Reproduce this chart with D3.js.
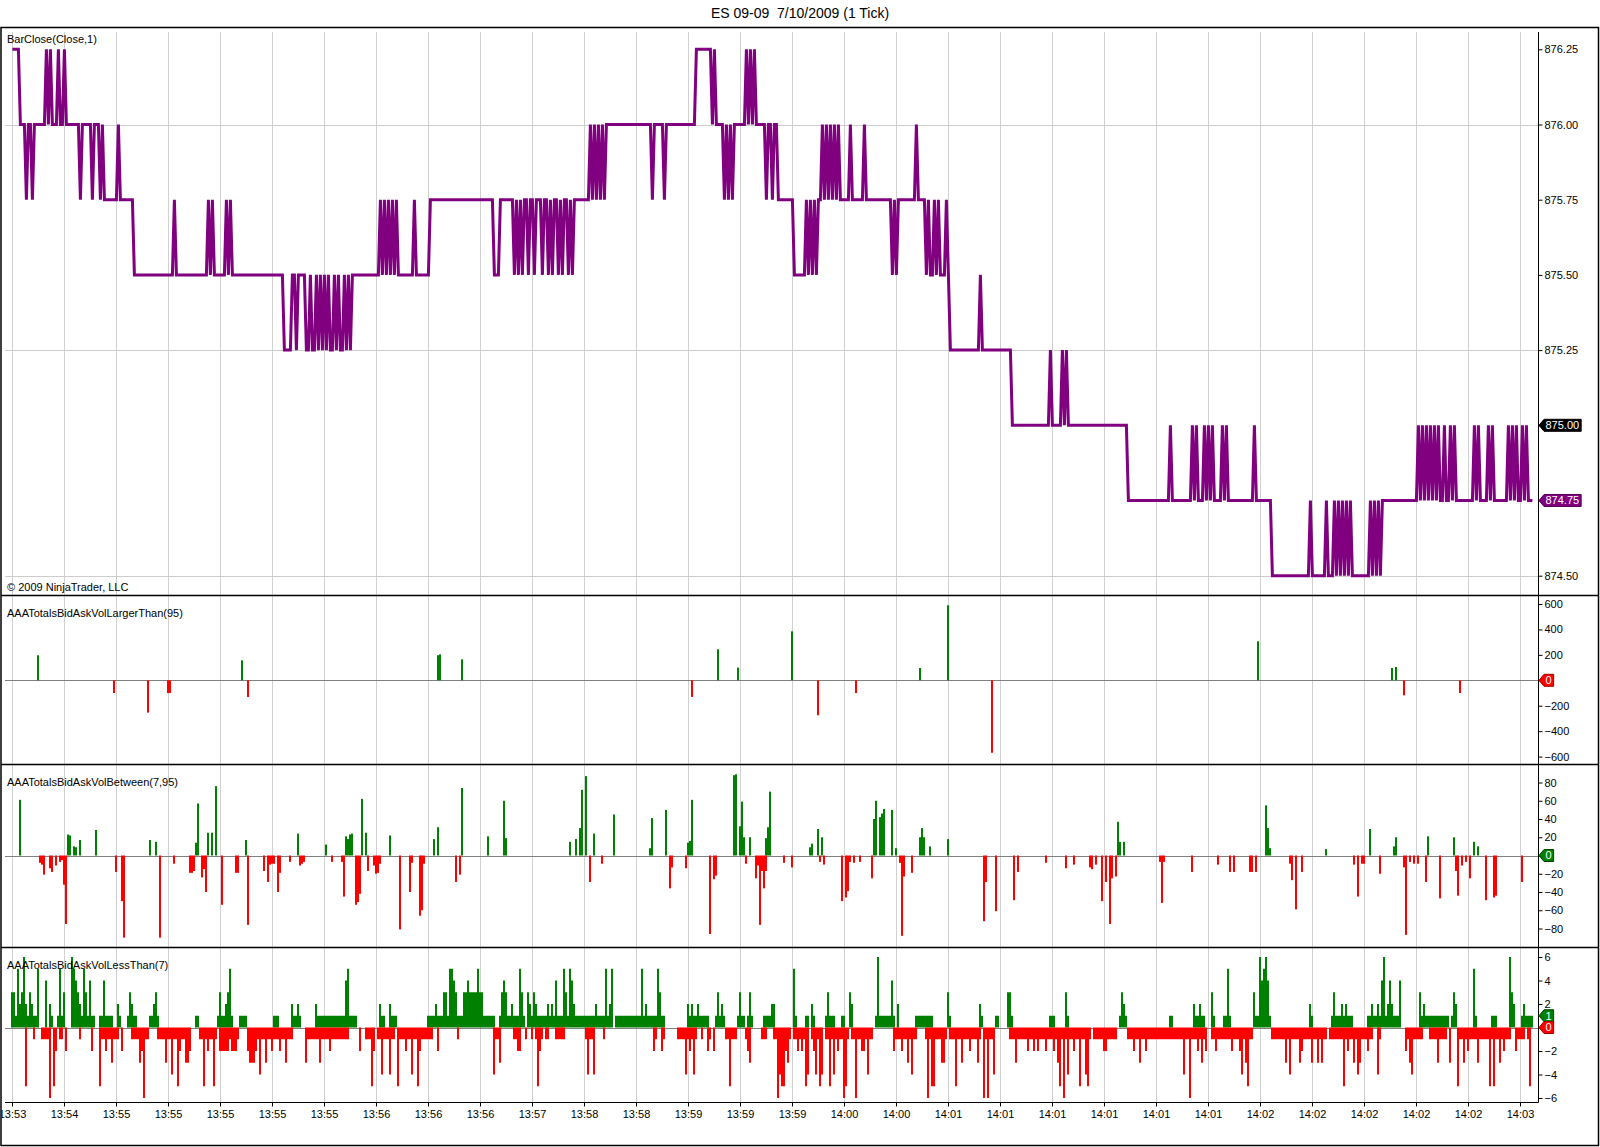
<!DOCTYPE html>
<html>
<head>
<meta charset="utf-8">
<script src="https://cdn.jsdelivr.net/npm/d3@7"></script>
<style>
    body { margin: 0; background: #fff; }
    text { font-family: Arial, "Liberation Sans", sans-serif; }
</style>
</head>
<body>
<script>
const chartTitle = 'ES 09-09  7/10/2009 (1 Tick)';
const copyright = '\u00a9 2009 NinjaTrader, LLC';
const panelNames = ['BarClose(Close,1)', 'AAATotalsBidAskVolLargerThan(95)',
                    'AAATotalsBidAskVolBetween(7,95)', 'AAATotalsBidAskVolLessThan(7)'];

// one label every 26 ticks
const barsPerLabel = 26;
const barCount = 761;
const timeLabels = ['13:53', '13:54', '13:55', '13:55', '13:55', '13:55', '13:55', '13:56',
                    '13:56', '13:56', '13:57', '13:58', '13:58', '13:59', '13:59', '13:59',
                    '14:00', '14:00', '14:01', '14:01', '14:01', '14:01', '14:01', '14:01',
                    '14:02', '14:02', '14:02', '14:02', '14:02', '14:03'];

// [bar, close] : the close holds from that bar until the next entry
const priceChanges = [
    [0,876.25],[4,876.00],[7,875.75],[8,876.00],[10,875.75],[11,876.00],
    [17,876.25],[18,876.00],[19,876.25],[20,876.00],[23,876.25],[24,876.00],[26,876.25],[27,876.00],
    [34,875.75],[35,876.00],[40,875.75],[41,876.00],[44,875.75],[45,876.00],[46,875.75],
    [53,876.00],[54,875.75],[61,875.50],
    [81,875.75],[82,875.50],[98,875.75],[99,875.50],[100,875.75],[101,875.50],
    [107,875.75],[108,875.50],[109,875.75],[110,875.50],
    [136,875.25],[140,875.50],[142,875.25],[143,875.50],[147,875.25],[149,875.50],[150,875.25],
    [152,875.50],[153,875.25],[154,875.50],[155,875.25],[156,875.50],[157,875.25],[158,875.50],
    [159,875.25],[161,875.50],[162,875.25],[163,875.50],[164,875.25],[166,875.50],[167,875.25],
    [168,875.50],[169,875.25],[170,875.50],
    [184,875.75],[185,875.50],[186,875.75],[187,875.50],[188,875.75],[189,875.50],[190,875.75],
    [191,875.50],[192,875.75],[193,875.50],[201,875.75],[202,875.50],[209,875.75],
    [241,875.50],[244,875.75],
    [251,875.50],[252,875.75],[253,875.50],[254,875.75],[255,875.50],[256,875.75],[258,875.50],
    [259,875.75],[261,875.50],[262,875.75],[265,875.50],[266,875.75],[268,875.50],[269,875.75],
    [270,875.50],[271,875.75],[273,875.50],[274,875.75],[275,875.50],[276,875.75],[278,875.50],
    [279,875.75],[280,875.50],[281,875.75],
    [289,876.00],[290,875.75],[291,876.00],[292,875.75],[293,876.00],[294,875.75],[295,876.00],
    [296,875.75],[297,876.00],[320,875.75],[321,876.00],[326,875.75],[327,876.00],
    [342,876.25],[350,876.00],[351,876.25],[352,876.00],
    [356,875.75],[357,876.00],[358,875.75],[359,876.00],[360,875.75],[361,876.00],
    [367,876.25],[368,876.00],[369,876.25],[370,876.00],[371,876.25],[372,876.00],
    [377,875.75],[378,876.00],[380,875.75],[381,876.00],[383,875.75],
    [391,875.50],[397,875.75],[398,875.50],[399,875.75],[400,875.50],[401,875.75],[402,875.50],
    [403,875.75],[405,876.00],[406,875.75],[407,876.00],[408,875.75],[409,876.00],[410,875.75],
    [411,876.00],[412,875.75],[413,876.00],[414,875.75],[419,876.00],[420,875.75],[426,876.00],
    [427,875.75],[440,875.50],[441,875.75],[442,875.50],[443,875.75],[452,876.00],[453,875.75],
    [457,875.50],[458,875.75],[459,875.50],[461,875.75],[462,875.50],[463,875.75],[464,875.50],
    [467,875.75],[468,875.50],[469,875.25],[484,875.50],[485,875.25],
    [500,875.00],[519,875.25],[520,875.00],[525,875.25],[526,875.00],[527,875.25],[528,875.00],
    [558,874.75],[579,875.00],[580,874.75],[590,875.00],[591,874.75],[592,875.00],[593,874.75],
    [596,875.00],[597,874.75],[598,875.00],[599,874.75],[600,875.00],[601,874.75],[605,875.00],
    [606,874.75],[607,875.00],[608,874.75],[621,875.00],[622,874.75],
    [630,874.50],[649,874.75],[650,874.50],[657,874.75],[658,874.50],[661,874.75],[662,874.50],
    [663,874.75],[664,874.50],[665,874.75],[666,874.50],[667,874.75],[668,874.50],[669,874.75],
    [670,874.50],[679,874.75],[680,874.50],[681,874.75],[682,874.50],[683,874.75],[684,874.50],
    [685,874.75],[703,875.00],[704,874.75],[705,875.00],[706,874.75],[707,875.00],[708,874.75],
    [709,875.00],[710,874.75],[711,875.00],[712,874.75],[713,875.00],[714,874.75],[716,875.00],
    [717,874.75],[719,875.00],[720,874.75],[721,875.00],[722,874.75],
    [731,875.00],[732,874.75],[733,875.00],[734,874.75],[738,875.00],[739,874.75],[740,875.00],
    [741,874.75],[748,875.00],[749,874.75],[750,875.00],[751,874.75],[752,875.00],[753,874.75],
    [755,875.00],[756,874.75],[757,875.00],[758,874.75]
];
const priceTicks = [874.50, 874.75, 875.00, 875.25, 875.50, 875.75, 876.00, 876.25];
const priceGridLevels = [874.50, 875.25, 876.00];
const markedPrice = 875.00;

// [bar, volume]  (positive = ask, negative = bid)
const largerThanBars = [
    [13,197],[51,-100],[68,-254],[78,-100],[79,-100],[115,157],[118,-131],[213,197],[214,204],
    [225,165],[340,-131],[353,244],[363,100],[390,385],[403,-275],[422,-100],[454,97],[468,590],
    [490,-570],[623,307],[690,97],[692,105],[696,-118],[724,-100]
];
const largerThanTicks = [-600, -400, -200, 0, 200, 400, 600];

const betweenBars = [
    [4,61],[28,23],[29,22],[31,10],[32,9],[34,17],[42,28],[69,17],[72,15],[92,14],[93,57],[98,25],
    [100,25],[102,76],[117,17],[143,24],[157,12],[167,21],[168,18],[169,23],[170,24],[175,62],
    [177,25],[189,22],[211,18],[213,31],[225,74],[238,21],[246,60],[247,19],[279,15],[282,18],
    [284,30],[285,72],[287,87],[291,24],[301,45],[319,8],[320,41],[327,50],[338,14],[339,16],
    [340,61],[361,88],[362,89],[364,32],[365,59],[366,20],[369,20],[377,19],[378,31],[379,70],
    [399,9],[400,13],[403,29],[405,20],[431,40],[432,60],[434,42],[435,46],[436,51],[440,50],
    [442,8],[454,20],[455,30],[456,20],[459,10],[468,18],[553,37],[554,15],[556,15],[627,55],
    [628,30],[629,8],[657,7],[679,29],[691,10],[692,20],[708,21],[721,20],[731,15],[733,10],
    [14,-8],[15,-10],[16,-21],[19,-14],[20,-18],[22,-11],[24,-7],[25,-5],[26,-32],[27,-75],
    [52,-18],[55,-50],[56,-90],[74,-90],[81,-9],[89,-19],[90,-19],[91,-17],[95,-24],[96,-15],
    [97,-40],[105,-54],[112,-19],[113,-19],[118,-76],[126,-17],[128,-29],[129,-10],[130,-9],
    [131,-9],[133,-40],[134,-19],[139,-7],[144,-11],[145,-9],[146,-7],[160,-7],[165,-7],[166,-45],
    [172,-54],[173,-51],[174,-42],[178,-17],[181,-11],[182,-20],[183,-19],[184,-9],[194,-81],
    [199,-40],[200,-8],[204,-66],[205,-60],[206,-9],[222,-29],[224,-21],[289,-29],[295,-9],
    [329,-36],[330,-13],[337,-14],[349,-86],[351,-26],[352,-22],[367,-9],[372,-25],[373,-11],
    [374,-76],[375,-17],[376,-36],[377,-17],[386,-8],[390,-13],[404,-7],[406,-10],[415,-50],
    [417,-46],[418,-39],[419,-7],[421,-8],[424,-7],[430,-25],[444,-8],[445,-88],[446,-23],
    [450,-19],[486,-72],[487,-29],[492,-61],[501,-49],[503,-18],[517,-8],[527,-14],[531,-10],
    [539,-13],[540,-15],[542,-10],[545,-50],[547,-29],[549,-75],[550,-25],[552,-23],[574,-7],
    [575,-52],[576,-7],[590,-18],[603,-10],[609,-18],[611,-18],[619,-18],[620,-18],[622,-18],
    [639,-9],[640,-27],[642,-59],[645,-18],[671,-10],[673,-45],[675,-9],[676,-9],[684,-20],
    [696,-13],[697,-87],[699,-7],[701,-9],[703,-9],[707,-29],[714,-47],[722,-17],[723,-44],
    [725,-11],[727,-7],[729,-25],[737,-49],[741,-46],[742,-44],[755,-29]
];
const betweenTicks = [-80, -60, -40, -20, 0, 20, 40, 60, 80];

// LessThan(7): runs of bars at +1 / -1, then the taller bars
const lessAskRuns = [
    [0,13],[19,20],[23,26],[35,41],[44,50],[53,54],[58,62],[69,73],[92,93],[103,110],[114,117],
    [131,133],[140,144],[152,172],[184,186],[189,192],[208,241],[244,256],[258,275],[276,300],
    [302,319],[320,326],[338,348],[352,356],[363,366],[368,370],[376,381],[391,392],[397,398],
    [400,401],[407,411],[415,416],[419,420],[432,441],[452,460],[468,469],[484,485],[492,493],
    [498,500],[519,521],[527,528],[554,557],[579,580],[591,596],[600,601],[606,609],[621,629],
    [649,650],[660,670],[678,694],[704,718],[720,722],[731,732],[740,742],[749,750],[755,760]
];
const lessAskPeaks = [
    [0,3],[1,3],[3,5],[4,2],[5,3],[6,6],[7,2],[9,3],[10,2],[13,5],[17,4],[19,2],[24,5],[26,3],
    [30,6],[31,5],[32,4],[33,3],[34,2],[36,5],[37,3],[39,4],[46,4],[53,2],[59,3],[60,2],[71,2],
    [72,3],[104,3],[107,2],[108,3],[109,5],[140,2],[143,2],[152,2],[167,4],[168,5],[184,2],
    [189,2],[212,2],[216,3],[217,3],[219,5],[220,5],[221,4],[222,3],[226,3],[227,3],[228,4],
    [229,3],[230,3],[231,3],[232,3],[233,5],[234,3],[235,3],[245,3],[246,4],[247,3],[250,2],
    [254,5],[255,3],[258,3],[259,2],[261,3],[262,2],[268,2],[270,2],[272,4],[276,5],[277,3],
    [279,5],[280,4],[281,2],[292,2],[297,5],[299,2],[300,5],[315,5],[317,2],[323,5],[324,3],
    [338,2],[340,2],[343,2],[353,3],[355,2],[364,3],[369,3],[380,2],[381,2],[391,5],[400,2],
    [408,3],[419,3],[420,2],[433,6],[440,4],[443,2],[468,3],[484,2],[498,3],[499,3],[527,3],
    [555,3],[556,2],[591,2],[594,2],[600,3],[608,5],[621,3],[624,6],[625,4],[626,5],[627,6],
    [628,4],[649,2],[661,3],[665,2],[667,2],[680,2],[683,2],[685,4],[686,6],[688,2],[689,4],
    [690,2],[694,4],[704,3],[706,2],[721,3],[722,2],[731,5],[749,6],[750,3],[751,2],[756,2]
];
const lessBidRuns = [
    [7,7],[11,11],[15,19],[24,25],[34,34],[44,53],[60,68],[73,89],[94,102],[104,113],[118,129],
    [130,140],[147,168],[177,181],[183,191],[194,210],[223,223],[241,244],[251,254],[257,257],
    [260,260],[262,265],[267,268],[272,276],[287,291],[296,296],[321,322],[325,326],[333,342],
    [345,345],[348,349],[351,351],[357,362],[367,369],[375,377],[381,389],[391,398],[400,405],
    [407,415],[416,418],[420,430],[441,452],[457,467],[469,484],[486,490],[499,539],[541,552],
    [558,597],[600,620],[630,657],[659,680],[683,684],[697,705],[709,717],[723,749],[753,756],
    [758,759]
];
const lessBidPeaks = [
    [7,-5],[19,-6],[21,-5],[22,-2],[27,-2],[40,-2],[44,-5],[47,-2],[50,-3],[55,-2],[64,-3],
    [65,-2],[66,-6],[77,-3],[80,-4],[83,-5],[84,-2],[87,-3],[88,-3],[89,-2],[96,-5],[98,-2],
    [101,-5],[104,-2],[105,-2],[106,-2],[107,-2],[108,-2],[110,-2],[111,-2],[112,-2],[118,-2],
    [119,-3],[120,-3],[121,-3],[122,-2],[124,-4],[127,-3],[130,-2],[134,-2],[137,-3],[147,-3],
    [154,-3],[159,-2],[174,-2],[180,-5],[181,-2],[185,-4],[189,-4],[193,-5],[197,-2],[200,-4],
    [203,-5],[204,-2],[213,-2],[241,-4],[244,-3],[253,-2],[254,-2],[263,-5],[264,-2],[288,-4],
    [291,-4],[321,-2],[325,-2],[337,-4],[339,-2],[341,-4],[348,-2],[351,-2],[359,-5],[368,-2],
    [369,-3],[383,-6],[384,-4],[385,-5],[386,-5],[387,-2],[388,-3],[393,-2],[395,-2],[397,-5],
    [398,-4],[401,-2],[402,-4],[404,-5],[405,-4],[409,-5],[411,-4],[413,-2],[416,-6],[417,-5],
    [422,-6],[425,-2],[426,-2],[428,-4],[441,-2],[445,-2],[448,-3],[450,-4],[458,-6],[460,-5],
    [461,-5],[465,-3],[466,-3],[472,-5],[475,-3],[479,-2],[483,-3],[486,-6],[488,-6],[491,-4],
    [502,-3],[508,-2],[511,-2],[513,-2],[517,-2],[521,-2],[523,-3],[524,-5],[526,-6],[528,-4],
    [531,-2],[534,-5],[537,-4],[538,-5],[546,-2],[547,-2],[561,-2],[564,-3],[567,-2],[586,-4],
    [589,-6],[593,-2],[595,-3],[597,-2],[602,-2],[610,-2],[614,-2],[615,-4],[617,-3],[618,-5],
    [637,-3],[639,-4],[644,-3],[645,-2],[650,-3],[653,-3],[655,-3],[666,-5],[668,-2],[671,-3],
    [673,-4],[674,-3],[678,-2],[683,-4],[697,-2],[699,-3],[700,-4],[713,-3],[719,-3],[723,-5],
    [726,-3],[728,-2],[733,-3],[739,-5],[741,-5],[744,-3],[746,-2],[752,-2],[759,-5]
];
const lessThanTicks = [-6, -4, -2, 0, 2, 4, 6];

window.onload = () => {
    const width = 1600;
    const height = 1147;

    const svg = d3.select('body')
                  .append('svg')
                  .attr('width', width)
                  .attr('height', height)
                  .style('background', '#fff');

    const axisX = 1538.5;
    const plotLeft = 5;
    const panels = [
        { top: 32, bottom: 595.5 },
        { top: 595.5, bottom: 764.5 },
        { top: 764.5, bottom: 947.5 },
        { top: 947.5, bottom: 1102.5 }
    ];

    const x = d3.scaleLinear()
                .domain([0, barsPerLabel * (timeLabels.length - 1)])
                .range([12.4, 1520.4]);

    const yPrice = d3.scaleLinear().domain([874.50, 876.25]).range([575.7, 49.3]);
    const yLarger = d3.scaleLinear().domain([-600, 600]).range([756.6, 604]);
    const yBetween = d3.scaleLinear().domain([-80, 80]).range([928.5, 782.5]);
    const yLess = d3.scaleLinear().domain([-6, 6]).range([1098, 957]);

    const gridBars = timeLabels.map((d, k) => k * barsPerLabel);

    svg.append('clipPath')
       .attr('id', 'frameClip')
       .append('rect')
       .attr('x', 1.5)
       .attr('y', 27)
       .attr('width', 1597)
       .attr('height', 1119);

    // vertical grid in every panel
    panels.forEach((p) => {
        svg.append('g')
           .selectAll('line')
           .data(gridBars)
           .enter()
           .append('line')
           .attr('x1', (d) => Math.round(x(d)) + 0.5)
           .attr('x2', (d) => Math.round(x(d)) + 0.5)
           .attr('y1', p.top)
           .attr('y2', p.bottom)
           .style('stroke', '#d0d0d0')
           .style('stroke-width', 1);
    });

    // horizontal price grid
    svg.append('g')
       .selectAll('line')
       .data(priceGridLevels)
       .enter()
       .append('line')
       .attr('x1', plotLeft)
       .attr('x2', axisX)
       .attr('y1', (d) => Math.round(yPrice(d)) + 0.5)
       .attr('y2', (d) => Math.round(yPrice(d)) + 0.5)
       .style('stroke', '#cccccc');

    // zero lines
    [yLarger, yBetween, yLess].forEach((y) => {
        svg.append('line')
           .attr('x1', plotLeft)
           .attr('x2', axisX)
           .attr('y1', Math.round(y(0)) + 0.5)
           .attr('y2', Math.round(y(0)) + 0.5)
           .style('stroke', '#808080');
    });

    // price line
    const closes = expandSteps(priceChanges);
    svg.append('path')
       .datum(closes)
       .attr('d', d3.line().x((d, i) => x(i)).y((d) => yPrice(d)))
       .style('fill', 'none')
       .style('stroke', '#800080')
       .style('stroke-width', 3)
       .style('stroke-linejoin', 'miter');

    appendBars(svg, x, yLarger, largerThanBars);
    appendBars(svg, x, yBetween, betweenBars);

    const lessAsk = expandRuns(lessAskRuns, lessAskPeaks, 1);
    const lessBid = expandRuns(lessBidRuns, lessBidPeaks, -1);
    appendBars(svg, x, yLess, lessAsk.map((v, i) => [i, v]).filter((d) => d[1] !== 0));
    appendBars(svg, x, yLess, lessBid.map((v, i) => [i, v]).filter((d) => d[1] !== 0));

    // panel separators
    svg.append('g')
       .selectAll('line')
       .data(panels.slice(1).map((p) => p.top))
       .enter()
       .append('line')
       .attr('x1', 1)
       .attr('x2', 1599)
       .attr('y1', (d) => d)
       .attr('y2', (d) => d)
       .style('stroke', '#000')
       .style('stroke-width', 1.5);

    // right axis line and bottom axis line
    svg.append('line')
       .attr('x1', axisX).attr('x2', axisX)
       .attr('y1', 32).attr('y2', 1102.5)
       .style('stroke', '#000');
    svg.append('line')
       .attr('x1', plotLeft).attr('x2', axisX)
       .attr('y1', 1102.5).attr('y2', 1102.5)
       .style('stroke', '#000');

    appendRightAxis(svg, axisX, yPrice, priceTicks, d3.format('.2f'));
    appendRightAxis(svg, axisX, yLarger, largerThanTicks, d3.format('d'));
    appendRightAxis(svg, axisX, yBetween, betweenTicks, d3.format('d'));
    appendRightAxis(svg, axisX, yLess, lessThanTicks, d3.format('d'));

    // time axis
    const bottomAxis = svg.append('g')
                          .attr('transform', 'translate(0.5, 1102.5)')
                          .attr('clip-path', 'url(#frameClip)')
                          .call(d3.axisBottom(x)
                                  .tickValues(gridBars)
                                  .tickFormat((d, k) => timeLabels[k])
                                  .tickSize(4)
                                  .tickPadding(4));
    bottomAxis.select('.domain').remove();
    bottomAxis.attr('clip-path', null)
              .attr('transform', null);
    bottomAxis.selectAll('.tick')
              .attr('transform', (d) => `translate(${Math.round(x(d)) + 0.5}, 1102.5)`);
    bottomAxis.selectAll('text')
              .style('font-family', 'Arial, "Liberation Sans", sans-serif')
              .style('font-size', '11px')
              .style('fill', '#000');
    const clipGroup = svg.append('g').attr('clip-path', 'url(#frameClip)');
    clipGroup.node().appendChild(bottomAxis.node());

    // markers on the price scale
    appendMarker(svg, axisX, yPrice(markedPrice), d3.format('.2f')(markedPrice), '#000', '#000');
    const lastClose = closes[closes.length - 1];
    appendMarker(svg, axisX, yPrice(lastClose), d3.format('.2f')(lastClose), '#800080', '#5a005a');

    const lastLarger = lastValue(largerThanBars);
    appendMarker(svg, axisX, yLarger(lastLarger), String(lastLarger), '#ff0000', '#a00000');
    const lastBetween = lastValue(betweenBars);
    appendMarker(svg, axisX, yBetween(lastBetween), String(lastBetween), '#008000', '#004000');
    const lastAsk = lessAsk[barCount - 1];
    const lastBid = lessBid[barCount - 1];
    appendMarker(svg, axisX, yLess(lastAsk), String(lastAsk), '#008000', '#004000');
    appendMarker(svg, axisX, yLess(lastBid), String(Math.abs(lastBid)), '#ff0000', '#a00000');

    // texts
    svg.append('text')
       .attr('x', 800)
       .attr('y', 18)
       .attr('text-anchor', 'middle')
       .style('font-size', '14px')
       .style('white-space', 'pre')
       .text(chartTitle);

    const nameY = [39.5, 613, 782.5, 965];
    panelNames.forEach((name, k) => {
        svg.append('text')
           .attr('x', 7)
           .attr('y', nameY[k])
           .attr('dy', '0.35em')
           .style('font-size', '11px')
           .text(name);
    });
    svg.append('text')
       .attr('x', 7)
       .attr('y', 587)
       .attr('dy', '0.35em')
       .style('font-size', '11px')
       .text(copyright);

    // outer frame
    svg.append('rect')
       .attr('x', 1)
       .attr('y', 27.5)
       .attr('width', 1597.5)
       .attr('height', 1118)
       .style('fill', 'none')
       .style('stroke', '#000')
       .style('stroke-width', 1.5);
};

const expandSteps = (changes) => {
    const values = [];
    let k = 0;
    for (let i = 0; i < barCount; i++) {
        while (k + 1 < changes.length && changes[k + 1][0] <= i) k++;
        values.push(changes[k][1]);
    }
    return values;
};

const expandRuns = (runs, peaks, runValue) => {
    const values = new Array(barCount).fill(0);
    runs.forEach(([a, b]) => {
        for (let i = a; i <= b; i++) values[i] = runValue;
    });
    peaks.forEach(([i, v]) => { values[i] = v; });
    return values;
};

const lastValue = (bars) => {
    const last = bars.filter((d) => d[0] === barCount - 1);
    return last.length ? last[0][1] : 0;
};

const appendBars = (selection, x, y, bars) => {
    selection
        .append('g')
        .selectAll('rect')
        .data(bars)
        .enter()
        .append('rect')
        .attr('x', (d) => Math.round(x(d[0])) - 1)
        .attr('width', 2)
        .attr('y', (d) => Math.min(y(0), y(d[1])))
        .attr('height', (d) => Math.abs(y(d[1]) - y(0)))
        .style('fill', (d) => d[1] > 0 ? '#008000' : '#ff0000');
};

const appendRightAxis = (selection, axisX, y, ticks, format) => {
    const g = selection
          .append('g')
          .attr('transform', `translate(${axisX}, 0)`)
          .call(d3.axisRight(y)
                  .tickValues(ticks)
                  .tickFormat(format)
                  .tickSize(4)
                  .tickPadding(2));
    g.select('.domain').remove();
    g.selectAll('text')
     .style('font-family', 'Arial, "Liberation Sans", sans-serif')
     .style('font-size', '11px')
     .style('fill', '#000');
};

const appendMarker = (selection, axisX, y, label, fill, stroke) => {
    const g = selection.append('g');
    const text = g.append('text')
                  .attr('x', axisX + 7)
                  .attr('y', y)
                  .attr('dy', '0.35em')
                  .style('font-size', '11px')
                  .style('fill', '#fff')
                  .text(label);
    const w = text.node().getComputedTextLength();
    const x0 = axisX + 0.5;
    const x1 = axisX + 7 + w + 2;
    g.insert('polygon', 'text')
     .attr('points',
           `${x0},${y} ${x0 + 5},${y - 6} ${x1},${y - 6} ` +
           `${x1},${y + 6} ${x0 + 5},${y + 6}`)
     .style('fill', fill)
     .style('stroke', stroke);
};
</script>
</body>
</html>
